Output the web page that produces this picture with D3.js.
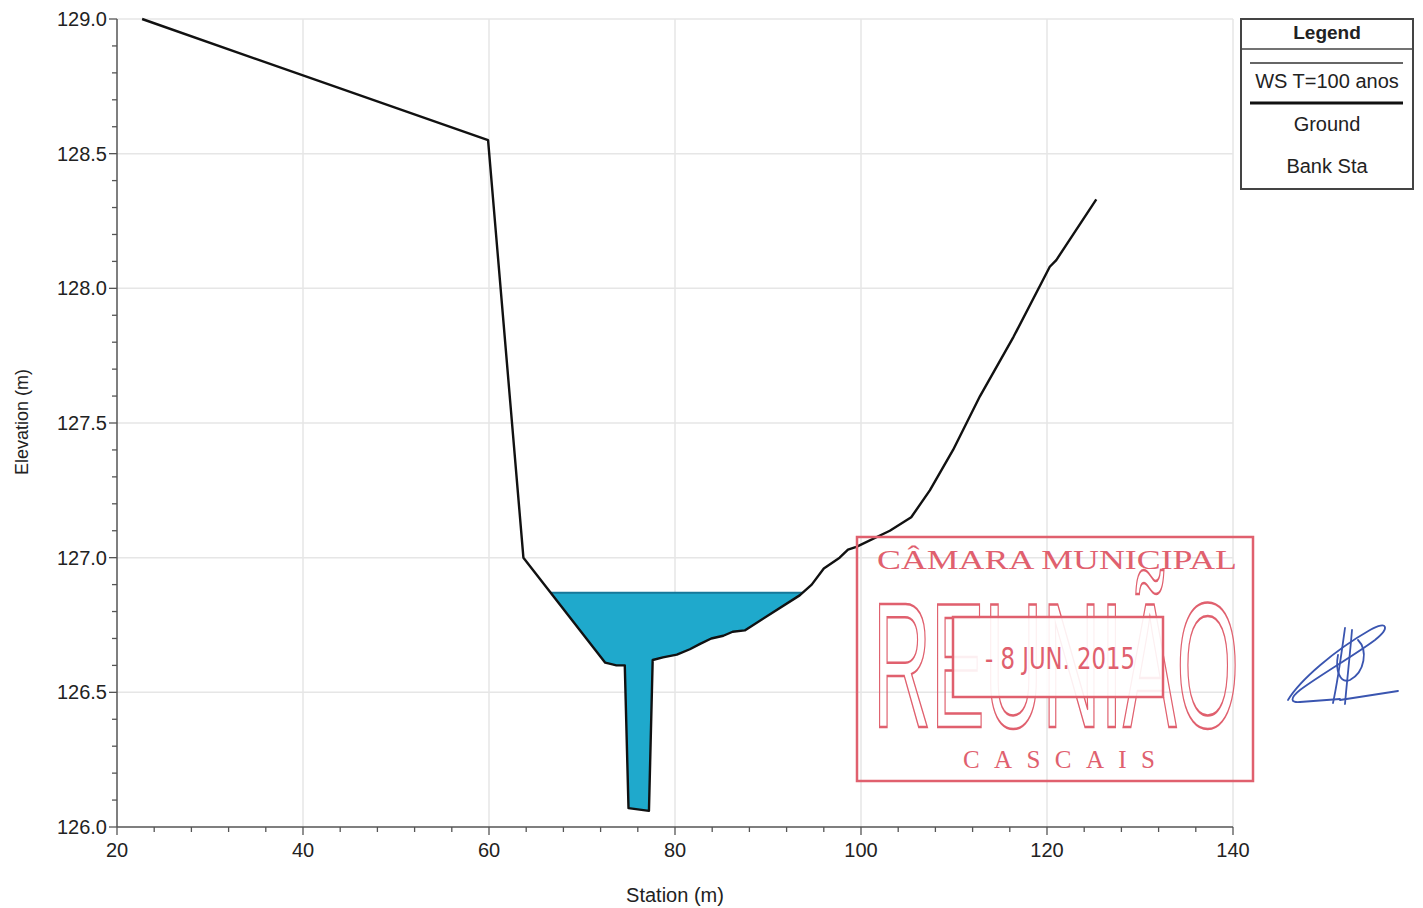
<!DOCTYPE html>
<html>
<head>
<meta charset="utf-8">
<script src="https://cdn.jsdelivr.net/npm/d3@7"></script>
<style>
  html, body { margin: 0; padding: 0; background: #ffffff; }
  svg { display: block; }
</style>
</head>
<body>
<svg id="chart" width="1423" height="908"></svg>
<script>
// ---------- DATA ----------
const groundStation = [22.7, 59.9, 63.7, 72.5, 73.7, 74.6, 75.0, 77.2, 77.6, 78.7, 80.2, 81.6, 82.7, 83.9, 85.2, 86.2, 87.5, 93.4, 94.7, 96.0, 97.7, 98.6, 99.5, 103.1, 105.4, 107.4, 109.9, 112.8, 116.4, 120.3, 121.0, 125.3];
const groundElevation = [129.0, 128.55, 127.0, 126.61, 126.60, 126.60, 126.07, 126.06, 126.62, 126.63, 126.64, 126.66, 126.68, 126.70, 126.71, 126.725, 126.73, 126.86, 126.90, 126.96, 127.0, 127.03, 127.04, 127.10, 127.15, 127.25, 127.40, 127.60, 127.82, 128.08, 128.105, 128.33];
const waterSurface = 126.87;
const xTicks = [20, 40, 60, 80, 100, 120, 140];
const yTicks = [126.0, 126.5, 127.0, 127.5, 128.0, 128.5, 129.0];
const legendItems = ["WS T=100 anos", "Ground", "Bank Sta"];

// ---------- LAYOUT ----------
const svg = d3.select("#chart");
const L = 117, T = 19, R = 1233, B = 827;
const x = d3.scaleLinear().domain([20, 140]).range([L, R]);
const y = d3.scaleLinear().domain([126, 129]).range([B, T]);
const FONT = "'Liberation Sans', Arial, sans-serif";

// grid
const grid = svg.append("g");
grid.selectAll(".vg").data(xTicks.slice(1)).join("line")
  .attr("x1", d => x(d)).attr("x2", d => x(d)).attr("y1", T).attr("y2", B)
  .attr("stroke", "#e6e6e6").attr("stroke-width", 1.5);
grid.selectAll(".hg").data(yTicks.slice(1)).join("line")
  .attr("x1", L).attr("x2", R).attr("y1", d => y(d)).attr("y2", d => y(d))
  .attr("stroke", "#e6e6e6").attr("stroke-width", 1.5);

// ---------- WATER POLYGON ----------
const pts = groundStation.map((s, i) => [s, groundElevation[i]]);
function waterPolygon(pts, ws) {
  const poly = [];
  let inside = false;
  for (let i = 0; i < pts.length - 1; i++) {
    const a = pts[i], b = pts[i + 1];
    const aBelow = a[1] < ws, bBelow = b[1] < ws;
    if (aBelow) poly.push(a);
    if (aBelow !== bBelow) {
      const t = (ws - a[1]) / (b[1] - a[1]);
      poly.push([a[0] + t * (b[0] - a[0]), ws]);
    }
  }
  return poly;
}
const wp = waterPolygon(pts, waterSurface);
svg.append("path")
  .attr("d", d3.line().x(d => x(d[0])).y(d => y(d[1]))(wp) + "Z")
  .attr("fill", "#1fa9cc").attr("stroke", "none");
// WS line
const wsLeft = d3.min(wp, d => d[0]), wsRight = d3.max(wp, d => d[0]);
svg.append("line")
  .attr("x1", x(wsLeft)).attr("x2", x(wsRight))
  .attr("y1", y(waterSurface)).attr("y2", y(waterSurface))
  .attr("stroke", "#17789a").attr("stroke-width", 2);

// ---------- GROUND ----------
svg.append("path")
  .attr("d", d3.line().x(d => x(d[0])).y(d => y(d[1]))(pts))
  .attr("fill", "none").attr("stroke", "#111").attr("stroke-width", 2.4)
  .attr("stroke-linejoin", "round");

// ---------- AXES ----------
const axisColor = "#555";
const xAxis = svg.append("g").attr("transform", `translate(0,${B})`);
xAxis.append("line").attr("x1", L).attr("x2", R).attr("stroke", axisColor).attr("stroke-width", 1.5);
xAxis.selectAll(".mt").data(d3.range(20, 140.01, 4)).join("line")
  .attr("x1", d => x(d)).attr("x2", d => x(d)).attr("y1", 0)
  .attr("y2", d => xTicks.includes(Math.round(d)) ? 8 : 5)
  .attr("stroke", axisColor).attr("stroke-width", 1.3);
xAxis.selectAll(".tl").data(xTicks).join("text")
  .attr("x", d => x(d)).attr("y", 30).attr("text-anchor", "middle")
  .attr("font-family", FONT).attr("font-size", 20).attr("fill", "#222")
  .text(d => d);

const yAxis = svg.append("g").attr("transform", `translate(${L},0)`);
yAxis.append("line").attr("y1", T).attr("y2", B).attr("stroke", axisColor).attr("stroke-width", 1.5);
yAxis.selectAll(".mt").data(d3.range(0, 31)).join("line")
  .attr("y1", d => y(126 + d * 0.1)).attr("y2", d => y(126 + d * 0.1))
  .attr("x1", 0).attr("x2", d => d % 5 === 0 ? -8 : -5)
  .attr("stroke", axisColor).attr("stroke-width", 1.3);
yAxis.selectAll(".tl").data(yTicks).join("text")
  .attr("x", -10).attr("y", d => y(d) + 7).attr("text-anchor", "end")
  .attr("font-family", FONT).attr("font-size", 20).attr("fill", "#222")
  .text(d => d.toFixed(1));

svg.append("text").attr("x", (L + R) / 2).attr("y", 902).attr("text-anchor", "middle")
  .attr("font-family", FONT).attr("font-size", 20).attr("fill", "#222").text("Station (m)");
svg.append("text").attr("transform", `translate(28,${(T + B) / 2 - 1}) rotate(-90)`)
  .attr("text-anchor", "middle")
  .attr("font-family", FONT).attr("font-size", 18).attr("fill", "#222").text("Elevation (m)");

// ---------- LEGEND ----------
const lg = svg.append("g");
lg.append("rect").attr("x", 1241).attr("y", 19).attr("width", 172).attr("height", 170)
  .attr("fill", "#fff").attr("stroke", "#444").attr("stroke-width", 2);
lg.append("line").attr("x1", 1241).attr("x2", 1413).attr("y1", 49).attr("y2", 49)
  .attr("stroke", "#444").attr("stroke-width", 1.5);
lg.append("text").attr("x", 1327).attr("y", 39).attr("text-anchor", "middle")
  .attr("font-family", FONT).attr("font-weight", "bold").attr("font-size", 19).attr("fill", "#222")
  .text("Legend");
lg.append("line").attr("x1", 1250).attr("x2", 1403).attr("y1", 63).attr("y2", 63)
  .attr("stroke", "#333").attr("stroke-width", 1.5);
lg.append("line").attr("x1", 1250).attr("x2", 1403).attr("y1", 103).attr("y2", 103)
  .attr("stroke", "#111").attr("stroke-width", 3);
lg.selectAll(".li").data(legendItems).join("text")
  .attr("x", 1327).attr("y", (d, i) => [88, 131, 173][i]).attr("text-anchor", "middle")
  .attr("font-family", FONT).attr("font-size", 20).attr("fill", "#222")
  .text(d => d);

// ---------- STAMP (decoration) ----------
const red = "#e0606e";
const st = svg.append("g");
st.append("rect").attr("x", 857).attr("y", 537).attr("width", 396).attr("height", 244)
  .attr("fill", "none").attr("stroke", red).attr("stroke-width", 2.5);
st.append("text").attr("x", 877).attr("y", 569)
  .attr("textLength", 360).attr("lengthAdjust", "spacingAndGlyphs")
  .attr("font-family", "'Liberation Serif', 'DejaVu Serif', serif").attr("font-size", 27)
  .attr("fill", red).text("CÂMARA MUNICIPAL");
st.append("text").attr("x", 873).attr("y", 727)
  .attr("textLength", 366).attr("lengthAdjust", "spacingAndGlyphs")
  .attr("font-family", "'Liberation Sans Narrow', 'Liberation Sans', sans-serif").attr("font-size", 178)
  .attr("fill", "none").attr("stroke", red).attr("stroke-width", 2.5).text("REUNIÃO");
st.append("rect").attr("x", 953).attr("y", 617).attr("width", 210).attr("height", 80)
  .attr("fill", "#fff").attr("fill-opacity", 0.9).attr("stroke", red).attr("stroke-width", 2.5);
st.append("text").attr("x", 985).attr("y", 669)
  .attr("textLength", 150).attr("lengthAdjust", "spacingAndGlyphs")
  .attr("font-family", "'Liberation Sans Narrow', 'DejaVu Sans Condensed', sans-serif").attr("font-size", 30)
  .attr("fill", red).text("- 8 JUN. 2015");
st.append("text").attr("x", 963).attr("y", 768)
  .attr("textLength", 192).attr("lengthAdjust", "spacing")
  .attr("font-family", "'Liberation Serif', 'DejaVu Serif', serif").attr("font-size", 25)
  .attr("fill", red).text("CASCAIS");

// signature (decoration)
const sig = svg.append("g").attr("fill", "none").attr("stroke", "#3a55b0").attr("stroke-width", 1.8)
  .attr("stroke-linecap", "round");
sig.append("path").attr("d", "M1288,700 C1300,680 1335,650 1370,630 C1388,620 1390,628 1375,640 C1355,655 1320,675 1300,690 C1290,698 1290,703 1300,702 L1340,699");
sig.append("path").attr("d", "M1340,700 L1398,691");
sig.append("path").attr("d", "M1345,628 C1342,650 1338,680 1333,703");
sig.append("path").attr("d", "M1352,630 C1350,655 1347,680 1345,704");
sig.append("path").attr("d", "M1358,640 C1368,650 1365,672 1350,680 C1340,684 1335,670 1338,655");
</script>
</body>
</html>
